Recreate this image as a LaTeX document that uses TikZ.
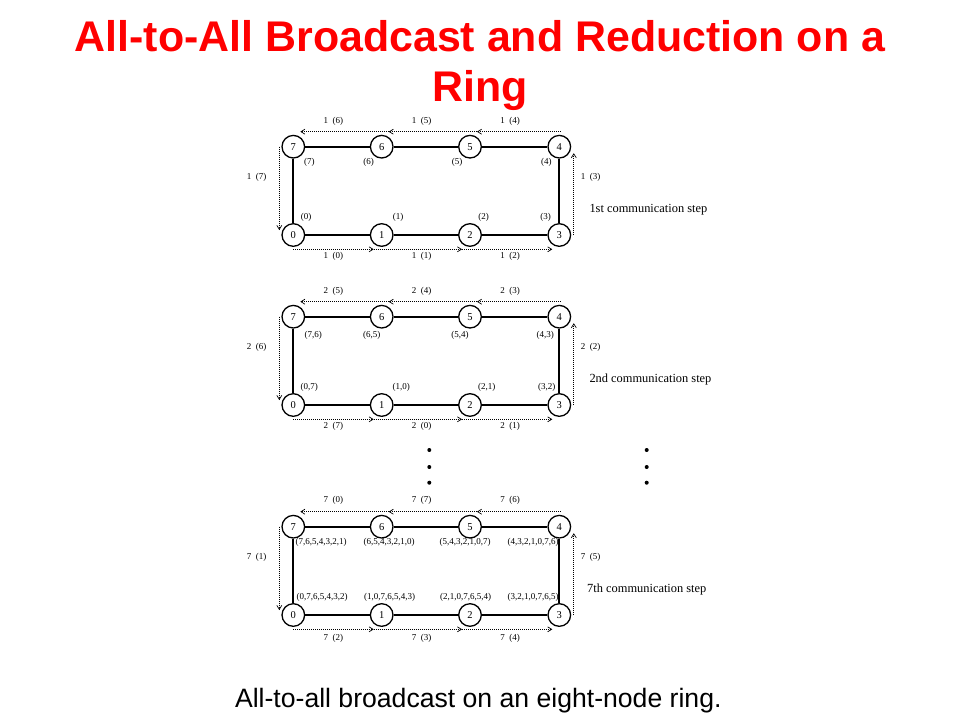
\documentclass[tikz,border=0pt]{standalone}
\usepackage{fontspec}
\setmainfont{Liberation Serif}
\newfontfamily\arialfont{Liberation Sans}
\usetikzlibrary{arrows.meta}
\definecolor{titlered}{RGB}{255,0,0}

\begin{document}
\begin{tikzpicture}[x=1pt, y=-1pt,
        proc/.style={draw, circle, line width=1.3pt, minimum size=22.6pt, inner sep=0, font=\fontsize{10.5}{12}\selectfont},
        link/.style={line width=1.9pt},
        msg/.style={line width=0.7pt, dash pattern=on 0.8pt off 1.2pt, -{Straight Barb[length=4pt,width=5pt]}},
        lbl/.style={inner sep=0, font=\fontsize{9}{10}\selectfont},
        steptxt/.style={inner sep=0, anchor=west, font=\fontsize{12.4}{14}\selectfont}]
        \useasboundingbox (0,0) rectangle (960,720);

        \node[anchor=north, align=center, inner sep=0, text=titlered, font=\arialfont\bfseries\fontsize{42.9}{50}\selectfont] (title) at (480,20.3) {All-to-All Broadcast and Reduction on a\\Ring};

        % the three rings
        \foreach \s/\dy in {A/0, B/170, C/380} {
                \begin{scope}[yshift=-\dy pt]
                        \node[proc] (\s7) at (293.3,146.7) {7};
                        \node[proc] (\s6) at (381.7,146.7) {6};
                        \node[proc] (\s5) at (470,146.7) {5};
                        \node[proc] (\s4) at (559.3,146.7) {4};
                        \node[proc] (\s0) at (293.3,235) {0};
                        \node[proc] (\s1) at (381.7,235) {1};
                        \node[proc] (\s2) at (470,235) {2};
                        \node[proc] (\s3) at (559.3,235) {3};

                        \draw[link] (\s0) -- (\s1) -- (\s2) -- (\s3) -- (\s4) -- (\s5) -- (\s6) -- (\s7) -- (\s0);

                        \draw[msg] ([xshift=1pt,yshift=15pt]\s4.center) -- ([xshift=7pt,yshift=15pt]\s5.center);
                        \draw[msg] ([xshift=7pt,yshift=15pt]\s5.center) -- ([xshift=7pt,yshift=15pt]\s6.center);
                        \draw[msg] ([xshift=7pt,yshift=15pt]\s6.center) -- ([xshift=7pt,yshift=15pt]\s7.center);
                        \draw[msg] ([xshift=-14pt]\s7.center) -- ([xshift=-14pt,yshift=5pt]\s0.center);
                        \draw[msg] ([yshift=-14.3pt]\s0.center) -- ([xshift=-8pt,yshift=-14.3pt]\s1.center);
                        \draw[msg] ([xshift=-8pt,yshift=-14.3pt]\s1.center) -- ([xshift=-8pt,yshift=-14.3pt]\s2.center);
                        \draw[msg] ([xshift=-8pt,yshift=-14.3pt]\s2.center) -- ([xshift=-7pt,yshift=-14.3pt]\s3.center);
                        \draw[msg] ([xshift=14.5pt]\s3.center) -- ([xshift=14.5pt,yshift=-6.5pt]\s4.center);
                \end{scope}
        }

        % 1st step
        \node[lbl] (A-m6) at (333.3,121.7) {1\ \ (6)};
        \node[lbl] (A-m5) at (421.7,121.7) {1\ \ (5)};
        \node[lbl] (A-m4) at (510,121.7) {1\ \ (4)};
        \node[lbl] (A-m7) at (256.7,177) {1\ \ (7)};
        \node[lbl] (A-m3) at (590.7,177) {1\ \ (3)};
        \node[lbl] (A-m0) at (333.3,256.7) {1\ \ (0)};
        \node[lbl] (A-m1) at (421.7,256.7) {1\ \ (1)};
        \node[lbl] (A-m2) at (510,256.7) {1\ \ (2)};
        \node[lbl] (A-b7) at (309.3,162.3) {(7)};
        \node[lbl] (A-b6) at (368.7,162.3) {(6)};
        \node[lbl] (A-b5) at (457,162.3) {(5)};
        \node[lbl] (A-b4) at (546.3,162.3) {(4)};
        \node[lbl] (A-b0) at (306,217.3) {(0)};
        \node[lbl] (A-b1) at (398,217.3) {(1)};
        \node[lbl] (A-b2) at (483.7,217.3) {(2)};
        \node[lbl] (A-b3) at (545.7,217.3) {(3)};
        \node[steptxt] (A-step) at (589.3,209.3) {1st communication step};

        % 2nd step
        \begin{scope}[yshift=-170pt]
                \node[lbl] (B-m5) at (333.3,121.7) {2\ \ (5)};
                \node[lbl] (B-m4) at (421.7,121.7) {2\ \ (4)};
                \node[lbl] (B-m3) at (510,121.7) {2\ \ (3)};
                \node[lbl] (B-m6) at (256.7,177) {2\ \ (6)};
                \node[lbl] (B-m2) at (590.7,177) {2\ \ (2)};
                \node[lbl] (B-m7) at (333.3,256.7) {2\ \ (7)};
                \node[lbl] (B-m0) at (421.7,256.7) {2\ \ (0)};
                \node[lbl] (B-m1) at (510,256.7) {2\ \ (1)};
                \node[lbl] (B-b7) at (313.3,165) {(7,6)};
                \node[lbl] (B-b6) at (371.7,165) {(6,5)};
                \node[lbl] (B-b5) at (460,165) {(5,4)};
                \node[lbl] (B-b4) at (545.3,165) {(4,3)};
                \node[lbl] (B-b0) at (309.3,217.3) {(0,7)};
                \node[lbl] (B-b1) at (401.3,217.3) {(1,0)};
                \node[lbl] (B-b2) at (486.7,217.3) {(2,1)};
                \node[lbl] (B-b3) at (546.7,217.3) {(3,2)};
                \node[steptxt] (B-step) at (589.3,209.3) {2nd communication step};
        \end{scope}

        % steps left out
        \foreach \x in {429.3, 646.7}
                \foreach \y in {450, 467, 482.7}
                        \fill (\x,\y) circle (2pt);

        % 7th step
        \begin{scope}[yshift=-380pt]
                \node[lbl] (C-m0) at (333.3,120.5) {7\ \ (0)};
                \node[lbl] (C-m7) at (421.7,120.5) {7\ \ (7)};
                \node[lbl] (C-m6) at (510,120.5) {7\ \ (6)};
                \node[lbl] (C-m1) at (256.7,177.5) {7\ \ (1)};
                \node[lbl] (C-m5) at (590.7,177.5) {7\ \ (5)};
                \node[lbl] (C-m2) at (333.3,258) {7\ \ (2)};
                \node[lbl] (C-m3) at (421.7,258) {7\ \ (3)};
                \node[lbl] (C-m4) at (510,258) {7\ \ (4)};
                \node[lbl] (C-b7) at (321,162.3) {(7,6,5,4,3,2,1)};
                \node[lbl] (C-b6) at (389,162.3) {(6,5,4,3,2,1,0)};
                \node[lbl] (C-b5) at (465,162.3) {(5,4,3,2,1,0,7)};
                \node[lbl] (C-b4) at (533,162.3) {(4,3,2,1,0,7,6)};
                \node[lbl] (C-b0) at (322,217.3) {(0,7,6,5,4,3,2)};
                \node[lbl] (C-b1) at (389.5,217.3) {(1,0,7,6,5,4,3)};
                \node[lbl] (C-b2) at (465.7,217.3) {(2,1,0,7,6,5,4)};
                \node[lbl] (C-b3) at (533,217.3) {(3,2,1,0,7,6,5)};
                \node[steptxt] (C-step) at (587,209.3) {7th communication step};
        \end{scope}

        \node[anchor=base, inner sep=0, font=\arialfont\fontsize{26.6}{30}\selectfont] (caption) at (478.3,707) {All-to-all broadcast on an eight-node ring.};
\end{tikzpicture}
\end{document}
